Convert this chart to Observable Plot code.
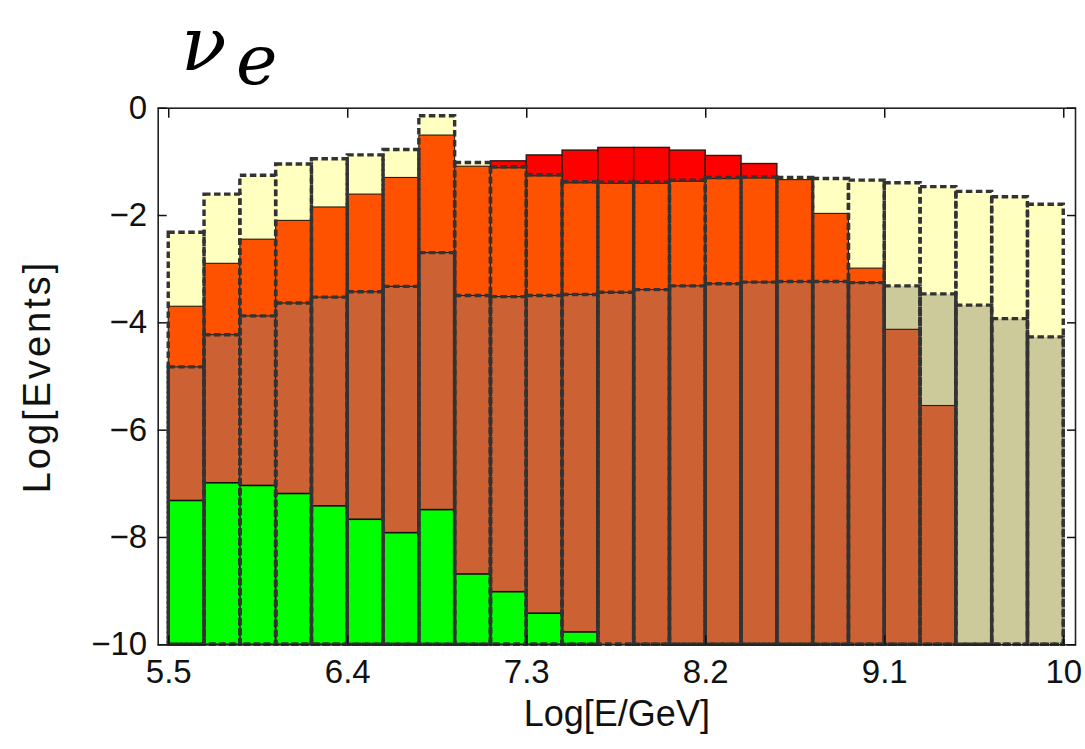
<!DOCTYPE html>
<html>
<head>
<meta charset="utf-8">
<script src="https://cdn.jsdelivr.net/npm/d3@7"></script>
<script src="https://cdn.jsdelivr.net/npm/@observablehq/plot@0.6"></script>
<style>
  html, body { margin: 0; padding: 0; background: #fff; }
  body { width: 1085px; height: 749px; overflow: hidden; font-family: "Liberation Sans", Arial, sans-serif; }
  #title { position: relative; width: 1085px; height: 90px; }
  #title span { position: absolute; font-family: "DejaVu Serif", serif; font-style: italic; line-height: 0.75; color: #000; white-space: nowrap; }
  #nu { left: 181px; top: 16px; font-size: 75px; }
  #sub { left: 236px; top: 34px; font-size: 70px; }
  #chart svg { display: block; }
</style>
</head>
<body>
<div id="title"><span id="nu">ν</span><span id="sub">e</span></div>
<div id="chart"></div>
<script>
// ---- data ----
const binStart = [5.5, 5.68, 5.86, 6.04, 6.22, 6.4, 6.58, 6.76, 6.94, 7.12, 7.3, 7.48, 7.66, 7.84, 8.02, 8.2, 8.38, 8.56, 8.74, 8.92, 9.1, 9.28, 9.46, 9.64, 9.82];
const binWidth = 0.18;

// light-yellow dashed histogram (largest envelope)
const yellowVals = [-2.32, -1.61, -1.26, -1.05, -0.95, -0.88, -0.78, -0.15, -1.02, -1.10, -1.25, -1.38, -1.39, -1.39, -1.35, -1.30, -1.29, -1.30, -1.32, -1.35, -1.40, -1.47, -1.56, -1.66, -1.80];
// khaki dashed histogram
const tanVals = [-4.83, -4.23, -3.88, -3.64, -3.53, -3.43, -3.33, -2.70, -3.50, -3.52, -3.50, -3.48, -3.44, -3.39, -3.32, -3.28, -3.25, -3.24, -3.24, -3.26, -3.32, -3.47, -3.68, -3.93, -4.27];
// red histogram
const redVals = [null, null, null, null, null, null, null, null, null, -0.99, -0.88, -0.79, -0.74, -0.74, -0.79, -0.89, -1.04, null, null, null, null, null, null, null, null];
// orange histogram
const orangeVals = [-3.70, -2.90, -2.45, -2.10, -1.85, -1.61, -1.30, -0.51, -1.09, -1.12, -1.27, -1.40, -1.41, -1.41, -1.37, -1.32, -1.31, -1.34, -1.97, -2.99, null, null, null, null, null];
// brown histogram
const brownVals = [-4.83, -4.23, -3.88, -3.64, -3.53, -3.43, -3.33, -2.70, -3.50, -3.52, -3.50, -3.48, -3.44, -3.39, -3.32, -3.28, -3.25, -3.24, -3.24, -3.26, -4.13, -5.55, null, null, null];
// green histogram
const greenVals = [-7.32, -6.99, -7.04, -7.19, -7.42, -7.67, -7.92, -7.49, -8.69, -9.02, -9.42, -9.77, null, null, null, null, null, null, null, null, null, null, null, null, null];

const xTicks = [5.5, 6.4, 7.3, 8.2, 9.1, 10];
const xTickLabels = ["5.5", "6.4", "7.3", "8.2", "9.1", "10"];
const yTicks = [-10, -8, -6, -4, -2, 0];
const yTickLabels = ["\u221210", "\u22128", "\u22126", "\u22124", "\u22122", "0"];
const yDomain = [-10, 0];
const xLabel = "Log[E/GeV]";
const yLabel = "Log[Events]";

// ---- build tables ----
const base = yDomain[0];
function rows(vals) {
  return binStart.map((x, i) => ({x1: x, x2: x + binWidth, y: vals[i]})).filter(d => d.y != null);
}
const dashStroke = "#333";
const solidStroke = "#2a1a10";
const bar = (vals, opts) => Plot.rectY(rows(vals), {x1: "x1", x2: "x2", y1: base, y2: "y", ...opts});
const dashed = {fill: "none", stroke: dashStroke, strokeWidth: 3.4, strokeDasharray: "6.5,3.5"};
const tick = 9;

const plot = Plot.plot({
  width: 1085,
  height: 659,
  marginTop: 17.7,
  marginBottom: 104.7,
  marginLeft: 157.7,
  marginRight: 10,
  style: {fontFamily: "'Liberation Sans', Arial, Helvetica, sans-serif", color: "#111", background: "#fff"},
  x: {domain: [5.447, 10.059]},
  y: {domain: yDomain},
  marks: [
    // fills
    bar(yellowVals, {fill: "#ffffc0"}),
    bar(tanVals, {fill: "#ccc99b"}),
    bar(redVals, {fill: "#ff0000", stroke: solidStroke, strokeWidth: 1.4}),
    bar(orangeVals, {fill: "#ff5200", stroke: solidStroke, strokeWidth: 1.1}),
    bar(brownVals, {fill: "#cc6233", stroke: solidStroke, strokeWidth: 1.1}),
    bar(greenVals, {fill: "#00ff00", stroke: "#111", strokeWidth: 1.6}),
    // dashed outlines on top
    bar(tanVals, dashed),
    bar(yellowVals, dashed),
    Plot.frame({stroke: "#222", strokeWidth: 1.6}),
    // inward ticks on all four sides (outward ticks shifted inside)
    Plot.axisX(xTicks, {anchor: "bottom", tickSize: tick, dy: -tick, fill: "none", strokeWidth: 1.5}),
    Plot.axisX(xTicks, {anchor: "top", tickSize: tick, dy: tick, fill: "none", strokeWidth: 1.5}),
    Plot.axisY(yTicks, {anchor: "left", tickSize: tick, dx: tick, fill: "none", strokeWidth: 1.5}),
    Plot.axisY(yTicks, {anchor: "right", tickSize: tick, dx: -tick, fill: "none", strokeWidth: 1.5}),
    // tick labels
    Plot.axisX(xTicks, {anchor: "bottom", tickSize: 0, tickPadding: 15, fontSize: 33, tickFormat: (d, i) => xTickLabels[i], label: null}),
    Plot.axisY(yTicks, {anchor: "left", tickSize: 0, tickPadding: 11, fontSize: 33, tickFormat: (d, i) => yTickLabels[i], label: null}),
    // axis titles
    Plot.text([xLabel], {text: d => d, frameAnchor: "bottom", dy: 81, fontSize: 36, fill: "#111"}),
    Plot.text([yLabel], {text: d => d, frameAnchor: "left", textAnchor: "middle", dx: -120, rotate: -90, fontSize: 38, fill: "#111", className: "ylab"})
  ]
});
d3.select(plot).selectAll(".ylab text").style("letter-spacing", "3px");
document.getElementById("chart").appendChild(plot);
</script>
</body>
</html>
